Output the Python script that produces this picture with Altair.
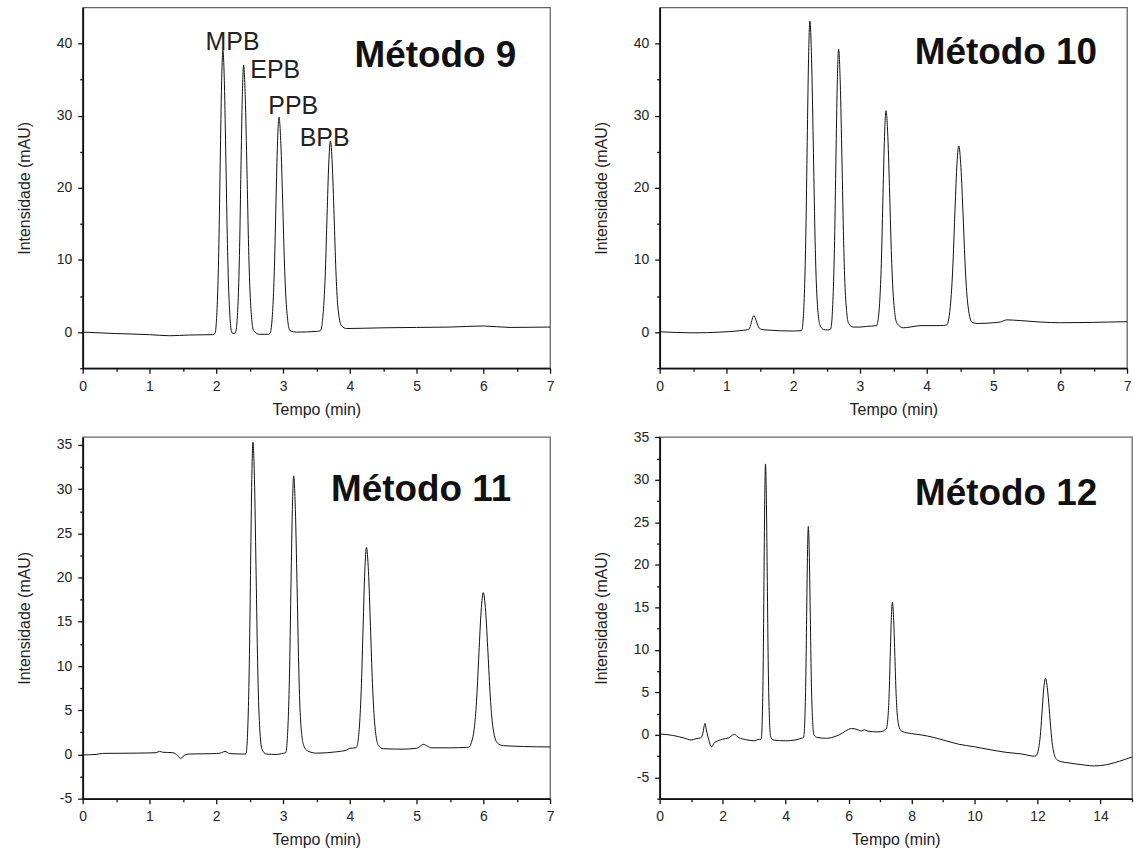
import altair as alt
import pandas as pd

# ---------------- data ----------------
M9 = [(0, 0.0), (0.5, -0.2), (1.0, -0.35), (1.3, -0.5), (1.6, -0.4), (1.95, -0.35),
      (1.98, -0.2), (2.02, 5.0), (2.04, 12.3), (2.06, 23.7), (2.08, 34.4), (2.10, 39.1),
      (2.1225, 34.4), (2.145, 23.7), (2.1675, 12.3), (2.19, 5.0), (2.235, -0.1), (2.27, -0.2),
      (2.29, 0.0), (2.33, 4.8), (2.35, 11.7), (2.37, 22.5), (2.39, 32.5), (2.41, 37.0),
      (2.435, 32.5), (2.46, 22.5), (2.485, 11.7), (2.51, 4.8), (2.56, 0.2), (2.65, -0.3), (2.78, -0.3),
      (2.805, -0.2), (2.85, 3.8), (2.8725, 9.3), (2.895, 18.1), (2.9175, 26.2), (2.94, 29.8),
      (2.9675, 26.2), (2.995, 18.1), (3.0225, 9.3), (3.05, 3.8), (3.105, 0.2), (3.2, 0.0), (3.5, 0.1),
      (3.56, 0.2), (3.61, 3.7), (3.635, 8.5), (3.66, 16.2), (3.685, 23.3), (3.71, 26.5),
      (3.7375, 23.3), (3.765, 16.2), (3.7925, 8.5), (3.82, 3.7), (3.875, 0.9), (3.95, 0.5),
      (4.5, 0.6), (5.0, 0.65), (5.5, 0.7), (6.0, 0.85), (6.4, 0.65), (7.0, 0.7)]

M10 = [(0, 0.05), (0.5, -0.1), (0.9, 0.0), (1.2, 0.2), (1.32, 0.35),
       (1.35, 0.6), (1.38, 1.6), (1.41, 2.3), (1.445, 1.6), (1.48, 0.7), (1.52, 0.4), (1.6, 0.3),
       (2.0, 0.15), (2.12, 0.2),
       (2.13, 0.3), (2.17, 6.0), (2.19, 13.9), (2.21, 26.4), (2.23, 37.9), (2.25, 43.1),
       (2.275, 37.9), (2.30, 26.4), (2.325, 13.9), (2.35, 6.0), (2.40, 1.0), (2.45, 0.4), (2.51, 0.3),
       (2.56, 0.4), (2.60, 5.6), (2.62, 12.7), (2.64, 24.0), (2.66, 34.5), (2.68, 39.2),
       (2.705, 34.5), (2.73, 24.0), (2.755, 12.7), (2.78, 5.6), (2.83, 1.2), (2.9, 0.7),
       (3.0, 0.7), (3.1, 0.8), (3.25, 0.9),
       (3.255, 1.0), (3.30, 4.9), (3.3225, 10.4), (3.345, 19.1), (3.3675, 27.1), (3.39, 30.7),
       (3.4175, 27.1), (3.445, 19.1), (3.4725, 10.4), (3.50, 4.9), (3.555, 1.2), (3.65, 0.6),
       (3.75, 0.7), (3.9, 0.9), (4.2, 0.9),
       (4.30, 1.0), (4.36, 4.3), (4.39, 8.9), (4.42, 16.1), (4.45, 22.8), (4.48, 25.8),
       (4.5125, 22.8), (4.545, 16.1), (4.5775, 8.9), (4.61, 4.3), (4.675, 1.4), (4.75, 1.2),
       (5.0, 1.3), (5.1, 1.4), (5.2, 1.7), (5.4, 1.6), (5.7, 1.4), (6.0, 1.3), (6.5, 1.35), (7.0, 1.45)]

M11 = [(0, -0.05), (0.2, 0.0), (0.3, 0.12), (0.8, 0.15), (1.1, 0.2), (1.15, 0.35), (1.2, 0.25),
       (1.35, 0.2), (1.42, -0.1), (1.47, -0.45), (1.52, -0.1), (1.6, 0.05), (2.0, 0.1),
       (2.08, 0.2), (2.13, 0.35), (2.2, 0.1), (2.42, 0.05),
       (2.445, 0.1), (2.48, 4.8), (2.4975, 11.3), (2.515, 21.5), (2.5325, 31.1), (2.55, 35.3),
       (2.5725, 31.1), (2.595, 21.5), (2.6175, 11.3), (2.64, 4.8), (2.685, 0.6), (2.75, 0.05),
       (2.9, 0.0), (2.98, 0.1),
       (3.04, 0.2), (3.08, 4.3), (3.10, 10.1), (3.12, 19.3), (3.14, 27.7), (3.16, 31.5),
       (3.185, 27.7), (3.21, 19.3), (3.235, 10.1), (3.26, 4.3), (3.31, 1.0), (3.37, 0.4),
       (3.5, 0.15), (3.8, 0.3), (3.95, 0.5), (4.0, 0.7), (4.08, 0.75),
       (4.10, 0.8), (4.15, 3.8), (4.175, 8.0), (4.20, 14.5), (4.225, 20.7), (4.25, 23.4),
       (4.28, 20.7), (4.31, 14.5), (4.34, 8.0), (4.37, 3.8), (4.43, 1.0), (4.5, 0.65),
       (4.8, 0.6), (5.0, 0.7), (5.05, 0.9), (5.1, 1.15), (5.16, 0.95), (5.22, 0.75),
       (5.5, 0.75), (5.75, 0.8), (5.8, 0.9),
       (5.805, 1.0), (5.87, 3.3), (5.9025, 6.5), (5.935, 11.5), (5.9675, 16.2), (6.00, 18.3),
       (6.035, 16.2), (6.07, 11.5), (6.105, 6.5), (6.14, 3.3), (6.21, 1.3), (6.3, 1.0),
       (6.6, 0.9), (7.0, 0.85)]

M12 = [(0, 0.1), (0.4, -0.05), (0.8, -0.4), (1.0, -0.6), (1.15, -0.45), (1.3, -0.35),
       (1.36, 0.0), (1.41, 1.0), (1.44, 1.35), (1.48, 0.6), (1.54, -0.3), (1.6, -1.1),
       (1.65, -1.4), (1.72, -1.0), (1.85, -0.7), (2.0, -0.5), (2.2, -0.35), (2.32, 0.0),
       (2.38, 0.05), (2.5, -0.3), (2.8, -0.6), (3.0, -0.7), (3.12, -0.55),
       (3.225, -0.5), (3.27, 3.8), (3.2925, 9.8), (3.315, 19.2), (3.3375, 27.9), (3.36, 31.85),
       (3.3875, 27.9), (3.415, 19.2), (3.4425, 9.8), (3.47, 3.8), (3.525, -0.2), (3.6, -0.6),
       (4.0, -0.7), (4.3, -0.6), (4.5, -0.4),
       (4.57, -0.3), (4.62, 3.0), (4.645, 7.6), (4.67, 14.8), (4.695, 21.5), (4.72, 24.5),
       (4.75, 21.5), (4.78, 14.8), (4.81, 7.6), (4.84, 3.0), (4.90, 0.0), (5.0, -0.3),
       (5.3, -0.4), (5.6, -0.15), (5.8, 0.2), (5.9, 0.45), (6.1, 0.75), (6.3, 0.6), (6.4, 0.45),
       (6.5, 0.6), (6.6, 0.45), (6.9, 0.35), (7.1, 0.45), (7.15, 0.6),
       (7.195, 0.7), (7.26, 2.6), (7.2925, 5.4), (7.325, 9.75), (7.3575, 13.8), (7.39, 15.6),
       (7.4275, 13.8), (7.465, 9.75), (7.5025, 5.4), (7.54, 2.6), (7.615, 0.8), (7.7, 0.4),
       (8.0, 0.15), (8.3, 0.0), (8.7, -0.3), (9.0, -0.6), (9.5, -1.1), (10.0, -1.4),
       (10.5, -1.75), (11.0, -2.05), (11.5, -2.25), (11.9, -2.5),
       (11.95, -2.45), (12.05, -1.25), (12.10, 0.4), (12.15, 3.1), (12.20, 5.55), (12.25, 6.65),
       (12.31, 5.55), (12.37, 3.1), (12.43, 0.3), (12.49, -1.6), (12.61, -2.9), (12.75, -3.15),
       (13.0, -3.3), (13.5, -3.55), (13.8, -3.65), (14.2, -3.5), (14.6, -3.1), (15.0, -2.6)]

METHOD_NAMES = ["Método 9", "Método 10", "Método 11", "Método 12"]
METHOD_POS = [(4.07, 36.8), (3.82, 37.2), (3.72, 28.7), (8.11, 27.0)]

PEAK_NAMES = ["MPB", "EPB", "PPB", "BPB"]
PEAK_POS = [(1.84, 39.1), (2.51, 35.25), (2.78, 30.3), (3.25, 25.8)]

X_TITLE = "Tempo (min)"
Y_TITLE = "Intensidade (mAU)"
FONT = "Liberation Sans"


def tick_values(a, b, step):
    n = int(round((b - a) / step))
    return [round(a + i * step, 4) for i in range(n + 1)]


def panel(data, xdom, ydom, xstep, xmaj, yrange, ystep, ymaj, w, h, name, name_pos, peaks=None):
    df = pd.DataFrame(data, columns=["t", "y"])
    xvals = tick_values(xdom[0], xdom[1], xstep)
    yvals = tick_values(yrange[0], yrange[1], ystep)
    xaxis = alt.Axis(
        values=xvals, tickCount=500,
        labelExpr=f"datum.value % {xmaj} === 0 ? '' + datum.value : ''",
        tickSize={"condition": {"test": f"datum.value % {xmaj} === 0", "value": 5}, "value": 3},
        title=X_TITLE, titlePadding=8,
    )
    yaxis = alt.Axis(
        values=yvals, tickCount=500,
        labelExpr=f"datum.value % {ymaj} === 0 ? '' + datum.value : ''",
        tickSize={"condition": {"test": f"datum.value % {ymaj} === 0", "value": 5}, "value": 3},
        title=Y_TITLE, titlePadding=24,
    )
    xs = alt.Scale(domain=list(xdom), nice=False, zero=False)
    ys = alt.Scale(domain=list(ydom), nice=False, zero=False)
    line = alt.Chart(df).mark_line(color="#111", strokeWidth=1, interpolate="monotone").encode(
        x=alt.X("t:Q", scale=xs, axis=xaxis),
        y=alt.Y("y:Q", scale=ys, axis=yaxis),
    )
    layers = [line]
    tdf = pd.DataFrame({"t": [name_pos[0]], "y": [name_pos[1]], "label": [name]})
    layers.append(
        alt.Chart(tdf).mark_text(align="left", baseline="alphabetic", font=FONT, fontSize=37,
                                 fontWeight="bold", color="#111").encode(
            x=alt.X("t:Q", title=X_TITLE), y=alt.Y("y:Q", title=Y_TITLE), text="label:N")
    )
    if peaks is not None:
        pdf = pd.DataFrame({"t": [p[0] for p in peaks[1]], "y": [p[1] for p in peaks[1]],
                            "label": peaks[0]})
        layers.append(
            alt.Chart(pdf).mark_text(align="left", baseline="alphabetic", font=FONT, fontSize=25,
                                     color="#222").encode(
                x=alt.X("t:Q", title=X_TITLE), y=alt.Y("y:Q", title=Y_TITLE), text="label:N")
        )
    return alt.layer(*layers).properties(width=w, height=h)


p1 = panel(M9, (0, 7), (-5, 45), 0.5, 1, (-5, 40), 5, 10, 469, 362,
           METHOD_NAMES[0], METHOD_POS[0], (PEAK_NAMES, PEAK_POS))
p2 = panel(M10, (0, 7), (-5, 45), 0.5, 1, (-5, 40), 5, 10, 469, 362,
           METHOD_NAMES[1], METHOD_POS[1])
p3 = panel(M11, (0, 7), (-5, 35.9), 0.5, 1, (-5, 35), 2.5, 5, 469, 363,
           METHOD_NAMES[2], METHOD_POS[2])
p4 = panel(M12, (0, 15), (-7.5, 35.02), 1, 2, (-7.5, 35), 2.5, 5, 474, 363,
           METHOD_NAMES[3], METHOD_POS[3])

chart = alt.concat(p1, p2, p3, p4, columns=2, spacing={"row": 69, "column": 110},
                   bounds="flush").properties(
    padding={"left": 15, "top": 5, "right": 0, "bottom": 0},
    background="white",
).configure_axis(
    labelFont=FONT, labelFontSize=14, labelColor="#222",
    titleFont=FONT, titleFontSize=16, titleFontWeight="normal", titleColor="#222",
    domainColor="#111", domainWidth=1.8, tickColor="#111", tickWidth=1.3,
    grid=False, labelFlush=False, labelOverlap=False, labelPadding=6,
).configure_view(stroke="#666", strokeWidth=1.3)

chart.save("out.html", embed_options={"renderer": "svg", "actions": False})
